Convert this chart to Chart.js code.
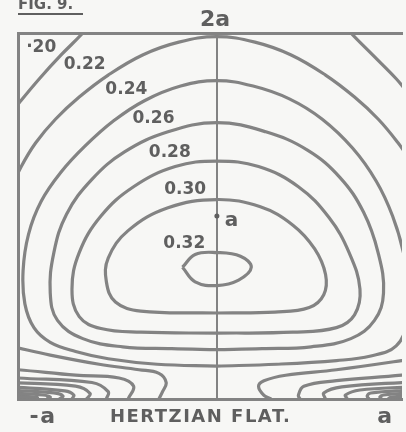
<!DOCTYPE html>
<html>
<head>
<meta charset="utf-8">
<script src="https://cdn.jsdelivr.net/npm/chart.js@4.4.1/dist/chart.umd.min.js"></script>
<style>
  html, body { margin: 0; padding: 0; background: #f7f7f5; }
  canvas { display: block; }
</style>
</head>
<body>
<canvas id="chartFig9" width="406" height="432"></canvas>
<script>
// contours, x and y in units of a (the flat runs from -a to a, y measured up from the flat)
const c020Left = [[-0.72, 2.03], [-0.74, 2.00], [-0.86, 1.88], [-0.98, 1.75], [-1.09, 1.62], [-1.12, 1.58]];
const c020Right = [[0.72, 2.03], [0.74, 2.00], [0.86, 1.88], [0.99, 1.75], [1.04, 1.69]];
const c022 = [[-1.14, 1.14], [-1.08, 1.27], [-1.00, 1.40], [-0.89, 1.53], [-0.76, 1.65], [-0.60, 1.77], [-0.41, 1.88],
    [-0.21, 1.95], [0, 1.98], [0.21, 1.95], [0.41, 1.88], [0.60, 1.77], [0.76, 1.65], [0.89, 1.53], [1.00, 1.40],
    [1.07, 1.30]];
const c024 = [[0, 0.18], [0.33, 0.19], [0.66, 0.21], [0.85, 0.235], [0.99, 0.29], [1.05, 0.42], [1.06, 0.60], [1.03, 0.80],
    [0.97, 1.00], [0.88, 1.19], [0.75, 1.37], [0.58, 1.53], [0.40, 1.64], [0.20, 1.71], [0, 1.74], [-0.20, 1.71],
    [-0.40, 1.63], [-0.57, 1.52], [-0.73, 1.38], [-0.86, 1.24], [-0.97, 1.08], [-1.04, 0.90], [-1.07, 0.70],
    [-1.06, 0.52], [-1.01, 0.39], [-0.92, 0.31], [-0.78, 0.26], [-0.60, 0.22], [-0.33, 0.19], [0, 0.18]];
const c026 = [[0, 0.27], [0.25, 0.275], [0.52, 0.285], [0.74, 0.33], [0.87, 0.43], [0.92, 0.58], [0.89, 0.80], [0.81, 1.02],
    [0.68, 1.21], [0.50, 1.36], [0.27, 1.46], [0, 1.51], [-0.27, 1.46], [-0.51, 1.35], [-0.69, 1.20], [-0.83, 1.01],
    [-0.90, 0.80], [-0.92, 0.58], [-0.88, 0.43], [-0.74, 0.33], [-0.52, 0.285], [-0.25, 0.275], [0, 0.27]];
const c028 = [[0, 0.36], [0.42, 0.365], [0.66, 0.39], [0.76, 0.46], [0.79, 0.60], [0.73, 0.80], [0.62, 0.99], [0.45, 1.16],
    [0.23, 1.27], [0, 1.30], [-0.23, 1.27], [-0.46, 1.16], [-0.64, 1.00], [-0.76, 0.80], [-0.80, 0.60], [-0.76, 0.45],
    [-0.64, 0.385], [-0.42, 0.365], [0, 0.36]];
const c030 = [[0, 0.47], [0.32, 0.475], [0.51, 0.50], [0.59, 0.57], [0.60, 0.68], [0.54, 0.82], [0.42, 0.95], [0.24, 1.05],
    [0, 1.09], [-0.27, 1.045], [-0.49, 0.92], [-0.60, 0.77], [-0.61, 0.64], [-0.56, 0.53], [-0.42, 0.48], [0, 0.47]];
const c032 = [[-0.19, 0.72], [-0.12, 0.79], [0, 0.80], [0.13, 0.78], [0.19, 0.72], [0.12, 0.65], [0, 0.62], [-0.12, 0.64], [-0.19, 0.72]];

// unlabelled lobes that crowd in at the ends of the flat
const lobesLeft = [
    [[-1.14, 0.29], [-1.10, 0.28], [-0.92, 0.24], [-0.65, 0.19], [-0.43, 0.16], [-0.32, 0.14], [-0.28, 0.09], [-0.30, 0.04], [-0.32, 0]],
    [[-1.14, 0.16], [-1.10, 0.16], [-0.78, 0.13], [-0.54, 0.115], [-0.46, 0.07], [-0.49, 0]],
    [[-1.14, 0.12], [-1.10, 0.115], [-0.69, 0.09], [-0.60, 0.04], [-0.61, 0]],
    [[-1.14, 0.09], [-0.78, 0.07], [-0.70, 0.03], [-0.72, 0]],
    [[-1.14, 0.066], [-0.84, 0.044], [-0.79, 0.022], [-0.80, 0]],
    [[-1.14, 0.049], [-0.90, 0.033], [-0.85, 0.016], [-0.87, 0]],
    [[-1.14, 0.033], [-0.96, 0.022], [-0.92, 0.011], [-0.94, 0]],
    [[-1.14, 0.016], [-1.00, 0.011], [-0.99, 0.005], [-1.00, 0]]
];
const lobesRight = [
    [[1.07, 0.22], [1.02, 0.21], [0.66, 0.16], [0.38, 0.13], [0.26, 0.10], [0.23, 0.07], [0.26, 0.02], [0.30, 0]],
    [[1.07, 0.14], [1.02, 0.13], [0.66, 0.10], [0.48, 0.07], [0.45, 0.02], [0.46, 0]],
    [[1.07, 0.093], [0.69, 0.066], [0.59, 0.033], [0.60, 0]],
    [[1.07, 0.066], [0.79, 0.049], [0.71, 0.022], [0.72, 0]],
    [[1.07, 0.049], [0.85, 0.033], [0.83, 0.016], [0.84, 0]],
    [[1.07, 0.033], [0.92, 0.022], [0.90, 0.011], [0.91, 0]],
    [[1.07, 0.016], [0.97, 0.011], [0.95, 0.005], [0.96, 0]]
];

// contour labels and where they sit (in a units)
const contourLabels = ['\u00b720', '0.22', '0.24', '0.26', '0.28', '0.30', '0.32'];
const contourLabelX = [-0.97, -0.73, -0.50, -0.35, -0.26, -0.175, -0.18];
const contourLabelY = [1.92, 1.825, 1.69, 1.53, 1.344, 1.142, 0.847];

const markPoint = [[0, 1]];          // the point at height a on the centre line
const axisLabels = ['-a', 'HERTZIAN FLAT.', 'a'];
const axisLabelX = [-0.96, -0.09, 0.93];
const axisLabelFont = ['bold 22px "DejaVu Sans"', 'bold 18px "DejaVu Sans"', 'bold 22px "DejaVu Sans"'];

const lineGrey = '#838383';
const textGrey = '#5f5f5f';

function pts(arr) {
    return arr.map(p => ({ x: p[0], y: p[1] }));
}

function contourSet(arr) {
    return {
        data: pts(arr),
        showLine: true,
        borderColor: lineGrey,
        borderWidth: 3.2,
        pointRadius: 0,
        tension: 0.4,
        fill: false
    };
}

const datasets = [c020Left, c020Right, c022, c024, c026, c028, c030, c032]
    .concat(lobesLeft, lobesRight)
    .map(contourSet);

datasets.push({
    data: pts(markPoint),
    showLine: false,
    pointRadius: 2.5,
    pointBackgroundColor: textGrey,
    pointBorderWidth: 0
});

const figText = {
    id: 'figText',
    afterDatasetsDraw(chart) {
        const ctx = chart.ctx;
        const x = chart.scales.x;
        const y = chart.scales.y;
        ctx.save();
        ctx.fillStyle = textGrey;
        ctx.textAlign = 'center';
        ctx.textBaseline = 'middle';
        ctx.font = 'bold 17px "DejaVu Sans"';
        contourLabels.forEach((t, i) => {
            ctx.fillText(t, x.getPixelForValue(contourLabelX[i]), y.getPixelForValue(contourLabelY[i]));
        });
        ctx.font = 'bold 20px "DejaVu Sans"';
        ctx.fillText('a', x.getPixelForValue(0.08), y.getPixelForValue(0.975));

        // top of the box is 2a
        ctx.font = 'bold 22px "DejaVu Sans"';
        ctx.fillText('2a', x.getPixelForValue(-0.01), y.getPixelForValue(2.07));

        ctx.letterSpacing = '1.5px';
        axisLabels.forEach((t, i) => {
            ctx.font = axisLabelFont[i];
            ctx.fillText(t, x.getPixelForValue(axisLabelX[i]), y.getPixelForValue(-0.1));
        });

        ctx.letterSpacing = '0px';
        ctx.font = 'bold 15px "DejaVu Sans"';
        ctx.textAlign = 'left';
        ctx.textBaseline = 'alphabetic';
        ctx.fillText('FIG. 9.', 18, 9);
        ctx.fillRect(18, 13, 65, 2);
        ctx.restore();
    }
};

new Chart(document.getElementById('chartFig9').getContext('2d'), {
    type: 'scatter',
    data: { datasets: datasets },
    options: {
        responsive: false,
        animation: false,
        layout: {
            padding: { left: 18, top: 33, right: 0, bottom: 33 }
        },
        plugins: {
            legend: { display: false },
            tooltip: { enabled: false }
        },
        scales: {
            x: {
                type: 'linear',
                min: -1.098,
                max: 1.022,
                afterBuildTicks: (axis) => { axis.ticks = [{ value: 0 }]; },
                ticks: { display: false },
                grid: { color: lineGrey, lineWidth: 2, drawTicks: false },
                border: { display: true, color: lineGrey, width: 3 }
            },
            xTop: {
                type: 'linear',
                position: 'top',
                min: -1.098,
                max: 1.022,
                ticks: { display: false },
                grid: { display: false, drawTicks: false },
                border: { display: true, color: lineGrey, width: 3 }
            },
            y: {
                type: 'linear',
                min: 0,
                max: 2,
                ticks: { display: false },
                grid: { display: false, drawTicks: false },
                border: { display: true, color: lineGrey, width: 3 }
            }
        }
    },
    plugins: [figText]
});
</script>
</body>
</html>
